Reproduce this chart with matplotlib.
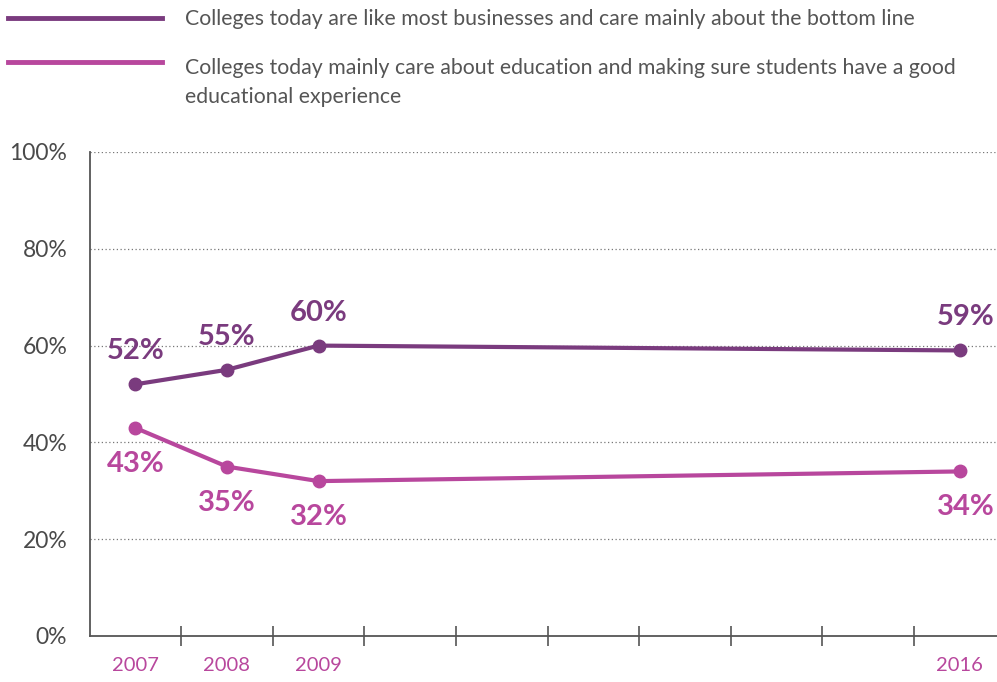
import matplotlib
matplotlib.use("Agg")
from matplotlib import pyplot as plt
from matplotlib.lines import Line2D

plt.rcParams["font.family"] = ["Lato", "DejaVu Sans"]

# data
years = [2007, 2008, 2009, 2016]
business = [52, 55, 60, 59]
education = [43, 35, 32, 34]
series_names = [
    "Colleges today are like most businesses and care mainly about the bottom line",
    "Colleges today mainly care about education and making sure students have a good\neducational experience",
]
y_ticks = [0, 20, 40, 60, 80, 100]

dark = "#7a3b7e"
pink = "#b8479d"
grey = "#555555"

W, H = 997, 682
fig = plt.figure(figsize=(W / 100, H / 100), dpi=100)
ax = fig.add_axes([89.5 / W, (H - 636) / H, 1 - 89.5 / W, 484 / H])

first = years[0]
xs = [y - first for y in years]

ax.plot(xs, business, color=dark, lw=3, marker="o", ms=9, zorder=3)
ax.plot(xs, education, color=pink, lw=3, marker="o", ms=9, zorder=3)

# value labels
for x, v in zip(xs, business):
    dx = 6 if x == xs[-1] else 0
    ax.annotate(f"{v}%", (x, v), xytext=(dx, 33), textcoords="offset pixels",
                ha="center", va="center", fontsize=21, fontweight="bold",
                color=dark)
for x, v in zip(xs, education):
    dx = 6 if x == xs[-1] else 0
    ax.annotate(f"{v}%", (x, v), xytext=(dx, -36), textcoords="offset pixels",
                ha="center", va="center", fontsize=21, fontweight="bold",
                color=pink)

ax.set_ylim(0, 100)
ax.set_xlim(-0.5, -0.5 + (W - 89.5) / 91.6)
ax.set_yticks(y_ticks)
ax.set_yticklabels([f"{t}%" for t in y_ticks], fontsize=16.5, color="#4a4a4a")
ax.tick_params(axis="y", length=0, pad=16)
for t in y_ticks[1:]:
    ax.axhline(t, color="#777777", lw=0.9, ls=(0, (1, 2)), zorder=1)

# band boundaries as tick marks, year labels in the middle
n_years = years[-1] - first + 1
ax.set_xticks([i + 0.5 for i in range(n_years - 1)])
ax.set_xticklabels([])
ax.tick_params(axis="x", which="major", direction="inout", length=14,
               width=1.2, color=grey)
ax.set_xticks(xs, minor=True)
ax.set_xticklabels([str(y) for y in years], minor=True, fontsize=14.5, color=pink)
ax.tick_params(axis="x", which="minor", length=0, pad=15)

for s in ["top", "right"]:
    ax.spines[s].set_visible(False)
for s in ["left", "bottom"]:
    ax.spines[s].set_color(grey)
    ax.spines[s].set_linewidth(1.3)

# legend drawn by hand
for (ly, ty), name, c in zip([(18, 21), (62, 70)], series_names, [dark, pink]):
    fig.add_artist(Line2D([8 / W, 162 / W], [1 - ly / H, 1 - ly / H],
                          color=c, lw=3.5, transform=fig.transFigure))
    fig.text(185 / W, 1 - (ty - 12) / H, name, fontsize=15.3, color=grey,
             va="top", ha="left", linespacing=1.55)

fig.savefig("out.png", dpi=100)
